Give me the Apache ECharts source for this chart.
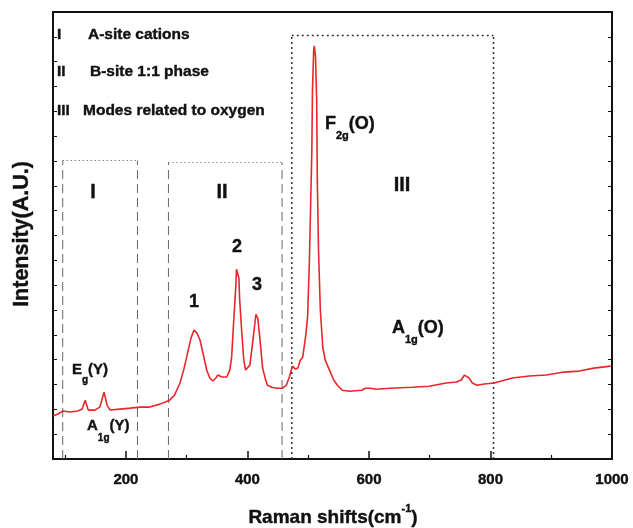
<!DOCTYPE html>
<html>
<head>
<meta charset="utf-8">
<script src="https://cdn.jsdelivr.net/npm/echarts@6/dist/echarts.min.js"></script>
<style>
  html, body { margin: 0; padding: 0; background: #fff; }
  #chart { width: 633px; height: 528px; }
</style>
</head>
<body>
<div id="chart"></div>
<script>
// Raman shift (cm-1) and intensity (arbitrary units)
var shifts = [80, 88, 96, 108, 121, 128, 133, 138, 149, 157, 164, 169, 174, 190, 207, 223, 239, 256, 272, 280, 289, 295, 300, 307, 312, 317, 322, 328, 333, 338, 343, 348, 351, 358, 366, 371, 374, 377, 381, 382, 386, 387, 391, 394, 397, 400, 404, 409, 414, 415, 417, 420, 425, 430, 433, 440, 448, 458, 464, 469, 474, 479, 483, 487, 491, 496, 499, 502, 506, 507, 509, 510, 512, 514, 515, 517, 520, 524, 528, 535, 542, 548, 556, 568, 588, 594, 597, 602, 612, 634, 671, 699, 727, 744, 752, 757, 760, 765, 770, 778, 790, 806, 836, 864, 892, 921, 946, 970, 998];
var intensity = [1.73, 1.81, 1.93, 1.89, 1.93, 2.01, 2.37, 1.97, 1.97, 2.09, 2.69, 2.17, 1.97, 2.01, 2.05, 2.09, 2.09, 2.21, 2.37, 2.57, 3.06, 3.58, 4.10, 4.86, 5.19, 5.07, 4.78, 4.14, 3.58, 3.26, 3.14, 3.26, 3.38, 3.30, 3.30, 3.58, 4.10, 5.39, 7.00, 7.64, 7.28, 6.51, 4.98, 3.98, 3.58, 3.50, 3.78, 4.78, 5.83, 5.91, 5.67, 4.98, 3.66, 3.18, 2.97, 2.89, 2.85, 2.85, 2.97, 3.30, 3.74, 3.62, 3.66, 3.98, 4.10, 4.98, 5.71, 8.00, 12.42, 14.83, 16.44, 16.64, 16.24, 14.43, 11.22, 8.40, 5.99, 4.50, 3.98, 3.58, 3.18, 2.97, 2.77, 2.73, 2.77, 2.85, 2.93, 2.85, 2.81, 2.85, 2.89, 2.93, 3.06, 3.10, 3.18, 3.38, 3.46, 3.26, 3.06, 2.97, 3.02, 3.06, 3.26, 3.34, 3.38, 3.50, 3.54, 3.66, 3.74];

var xMajorTicks = [200, 400, 600, 800, 1000];
var xMinorTicks = [100, 300, 500, 700, 900];

// band limits [left, right, top]
var bandI = [96, 219, 12.02];
var bandII = [270, 457, 11.94];
var bandIII = [473, 805, 17.05];

var red = '#e8272a';
var font = '"Liberation Sans", Arial, sans-serif';

function band(b, sideStyle, topStyle) {
    var mk = function (data, style) {
        return {
            type: 'line', data: data, symbol: 'none', silent: true, z: 1,
            lineStyle: style, animation: false
        };
    };
    return [
        mk([[b[0], 0], [b[0], b[2]]], sideStyle),
        mk([[b[1], 0], [b[1], b[2]]], sideStyle),
        mk([[b[0], b[2]], [b[1], b[2]]], topStyle)
    ];
}

var grayDash = { color: '#666', width: 1, type: [9, 5] };
var grayDot = { color: '#555', width: 1, type: [1, 3] };
var blackDot = { color: '#333', width: 1.5, type: [2, 3] };

var spectrum = shifts.map(function (x, i) { return [x, intensity[i]]; });

var series = [].concat(
    band(bandI, grayDash, grayDot),
    band(bandII, grayDash, grayDot),
    band(bandIII, blackDot, blackDot),
    [{
        type: 'line', data: spectrum, symbol: 'none', z: 3,
        lineStyle: { color: red, width: 1.6 }, animation: false
    }]
);

function txt(x, y, text, size, align, rich) {
    var st = {
        text: text, x: x, y: y, fill: '#111',
        font: 'bold ' + size + 'px ' + font,
        textAlign: align || 'left', textVerticalAlign: 'middle',
        stroke: '#111', lineWidth: 0.4
    };
    if (rich) st.rich = rich;
    return { type: 'text', style: st, z: 10 };
}

function tok(size, lh, va) {
    return {
        fontSize: size, fontWeight: 'bold', fontFamily: font, lineHeight: lh,
        verticalAlign: va, fill: '#111', stroke: '#111', lineWidth: 0.4
    };
}

function subRich(size, subSize, drop) {
    return { b: tok(size, size + drop, 'top'), s: tok(subSize, subSize, 'bottom') };
}

var option = {
    animation: false,
    grid: { left: 53, right: 21, top: 12, bottom: 69, containLabel: false },
    xAxis: [{
        type: 'value', min: 80, max: 1000, position: 'bottom',
        axisLine: { lineStyle: { color: '#111', width: 2 } },
        axisTick: { inside: true, length: 8, customValues: xMajorTicks, lineStyle: { color: '#111', width: 1.5 } },
        axisLabel: {
            customValues: xMajorTicks, margin: 13, color: '#111', fontSize: 15, fontWeight: 'bold', fontFamily: font,
            textBorderColor: '#111', textBorderWidth: 0.4,
            formatter: function (v) { return String(v); }
        },
        splitLine: { show: false }
    }, {
        type: 'value', min: 80, max: 1000, position: 'bottom',
        axisLine: { show: false },
        axisTick: { inside: true, length: 4, customValues: xMinorTicks, lineStyle: { color: '#111', width: 1.2 } },
        axisLabel: { show: false },
        splitLine: { show: false }
    }, {
        type: 'value', min: 80, max: 1000, position: 'top',
        axisLine: { lineStyle: { color: '#111', width: 2 } },
        axisTick: { show: false }, axisLabel: { show: false }, splitLine: { show: false }
    }],
    yAxis: [{
        type: 'value', min: 0, max: 18, interval: 1, position: 'left',
        axisLine: { show: true, lineStyle: { color: '#111', width: 2 } },
        axisTick: { inside: true, length: 4, lineStyle: { color: '#111', width: 1 } },
        axisLabel: { show: false }, splitLine: { show: false }
    }, {
        type: 'value', min: 0, max: 18, interval: 1, position: 'right',
        axisLine: { show: true, lineStyle: { color: '#111', width: 2 } },
        axisTick: { inside: true, length: 4, lineStyle: { color: '#111', width: 1 } },
        axisLabel: { show: false }, splitLine: { show: false }
    }],
    graphic: [
        txt(57, 35, 'I', 15.5), txt(88, 35, 'A-site cations', 15.5),
        txt(57, 72, 'II', 15.5), txt(90, 72, 'B-site 1:1 phase', 15.5),
        txt(57, 111, 'III', 15.5), txt(83, 111, 'Modes related to oxygen', 15.5),
        txt(93, 192, 'I', 20, 'center'),
        txt(222, 192, 'II', 20, 'center'),
        txt(402, 185, 'III', 20, 'center'),
        txt(194, 302, '1', 18, 'center'),
        txt(237, 247, '2', 18, 'center'),
        txt(257, 285, '3', 18, 'center'),
        txt(325, 128, '{b|F}{s|2g}{b|(O)}', 18, 'left', subRich(18, 11, 8)),
        txt(392, 332, '{b|A}{s|1g}{b|(O)}', 18, 'left', subRich(18, 11, 8)),
        txt(72, 374, '{b|E}{s|g}{b|(Y)}', 15, 'left', subRich(15, 10, 8)),
        txt(87, 431, '{b|A}{s|1g}{b|(Y)}', 15, 'left', subRich(15, 10, 10)),
        {
            type: 'text', rotation: Math.PI / 2, x: 22, y: 234, z: 10,
            style: {
                text: 'Intensity(A.U.)', fill: '#111', font: 'bold 21.5px ' + font,
                textAlign: 'center', textVerticalAlign: 'middle', stroke: '#111', lineWidth: 0.4
            }
        },
        txt(333, 515, '{b|Raman shifts(cm}{p|-1}{b|)}', 19, 'center', {
            b: tok(19, 24, 'bottom'),
            p: tok(11, 11, 'top')
        })
    ],
    series: series
};

var chart = echarts.init(document.getElementById('chart'));
chart.setOption(option);
</script>
</body>
</html>
